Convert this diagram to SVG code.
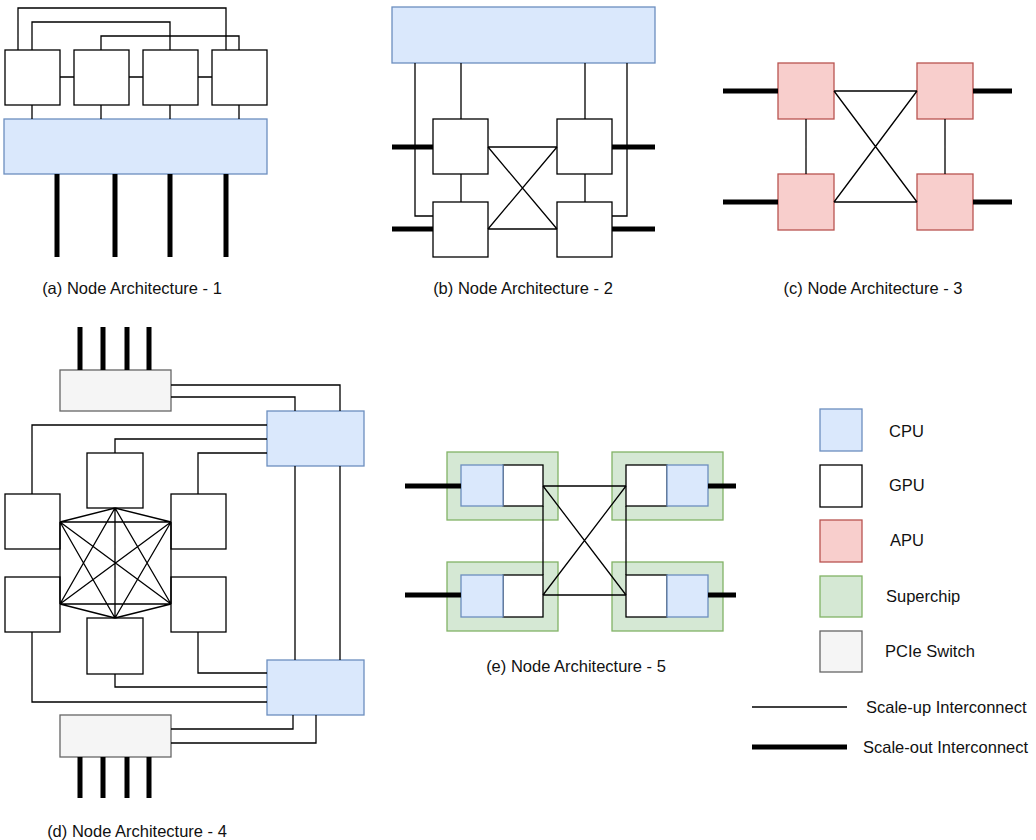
<svg xmlns="http://www.w3.org/2000/svg" width="1036" height="840" viewBox="0 0 1036 840">
<style>
.gpu{fill:#ffffff;stroke:#000;stroke-width:1.3}
.cpu{fill:#dae8fc;stroke:#6c8ebf;stroke-width:1.3}
.apu{fill:#f8cecc;stroke:#b85450;stroke-width:1.3}
.sc{fill:#d5e8d4;stroke:#82b366;stroke-width:1.3}
.sw{fill:#f5f5f5;stroke:#666666;stroke-width:1.3}
.up{stroke:#000;stroke-width:1.3;fill:none}
.out{stroke:#000;stroke-width:5;fill:none}
.lbl{font-family:"Liberation Sans",Arial,Helvetica,sans-serif;font-size:16.5px;fill:#111}
</style>
<rect width="1036" height="840" fill="#ffffff"/>

<!-- (a) -->
<g id="a-cpu"><rect class="cpu" x="4" y="119" width="263" height="55"/></g>
<g id="a-gpu1"><rect class="gpu" x="5" y="50" width="55" height="55"/></g>
<g id="a-gpu2"><rect class="gpu" x="74" y="50" width="55" height="55"/></g>
<g id="a-gpu3"><rect class="gpu" x="143" y="50" width="55" height="55"/></g>
<g id="a-gpu4"><rect class="gpu" x="212" y="50" width="55" height="55"/></g>
<text class="lbl" x="132" y="294" text-anchor="middle">(a) Node Architecture - 1</text>

<!-- (b) -->
<g id="b-cpu"><rect class="cpu" x="392" y="7" width="263" height="56"/></g>
<g id="b-gpu1"><rect class="gpu" x="433" y="119" width="55" height="55"/></g>
<g id="b-gpu2"><rect class="gpu" x="433" y="202" width="55" height="55"/></g>
<g id="b-gpu3"><rect class="gpu" x="557" y="119" width="55" height="55"/></g>
<g id="b-gpu4"><rect class="gpu" x="557" y="202" width="55" height="55"/></g>
<text class="lbl" x="523" y="294" text-anchor="middle">(b) Node Architecture - 2</text>

<!-- (c) -->
<g id="c-apu1"><rect class="apu" x="778" y="63" width="56" height="56"/></g>
<g id="c-apu2"><rect class="apu" x="778" y="174" width="56" height="56"/></g>
<g id="c-apu3"><rect class="apu" x="917" y="63" width="56" height="56"/></g>
<g id="c-apu4"><rect class="apu" x="917" y="174" width="56" height="56"/></g>
<text class="lbl" x="873" y="294" text-anchor="middle">(c) Node Architecture - 3</text>

<!-- (d) -->
<g id="d-sw1"><rect class="sw" x="60" y="370" width="111" height="41"/></g>
<g id="d-sw2"><rect class="sw" x="60" y="715" width="111" height="42"/></g>
<g id="d-cpu1"><rect class="cpu" x="267" y="411" width="97" height="55"/></g>
<g id="d-cpu2"><rect class="cpu" x="267" y="660" width="97" height="55"/></g>
<g id="d-gpu-t"><rect class="gpu" x="87" y="453" width="56" height="55"/></g>
<g id="d-gpu-ul"><rect class="gpu" x="5" y="494" width="55" height="55"/></g>
<g id="d-gpu-ur"><rect class="gpu" x="171" y="494" width="55" height="55"/></g>
<g id="d-gpu-ll"><rect class="gpu" x="5" y="577" width="55" height="55"/></g>
<g id="d-gpu-lr"><rect class="gpu" x="171" y="577" width="55" height="55"/></g>
<g id="d-gpu-b"><rect class="gpu" x="87" y="618" width="56" height="56"/></g>
<text class="lbl" x="137" y="837" text-anchor="middle">(d) Node Architecture - 4</text>

<!-- (e) -->
<g id="e-sc1"><rect class="sc" x="447" y="452" width="111" height="68"/><rect class="gpu" x="503" y="465" width="40" height="41"/><rect class="cpu" x="461" y="465" width="42" height="41"/></g>
<g id="e-sc2"><rect class="sc" x="612" y="452" width="111" height="68"/><rect class="gpu" x="626" y="465" width="41" height="41"/><rect class="cpu" x="667" y="465" width="41" height="41"/></g>
<g id="e-sc3"><rect class="sc" x="447" y="562" width="111" height="69"/><rect class="gpu" x="503" y="575" width="40" height="42"/><rect class="cpu" x="461" y="575" width="42" height="42"/></g>
<g id="e-sc4"><rect class="sc" x="612" y="562" width="111" height="69"/><rect class="gpu" x="626" y="575" width="41" height="42"/><rect class="cpu" x="667" y="575" width="41" height="42"/></g>
<text class="lbl" x="576" y="672" text-anchor="middle">(e) Node Architecture - 5</text>

<!-- legend -->
<g id="legend">
<rect class="cpu" x="820" y="409" width="42" height="42"/>
<text class="lbl" x="889" y="437">CPU</text>
<rect class="gpu" x="820" y="465" width="42" height="42"/>
<text class="lbl" x="889" y="491">GPU</text>
<rect class="apu" x="820" y="520" width="42" height="42"/>
<text class="lbl" x="890" y="546">APU</text>
<rect class="sc" x="820" y="576" width="42" height="41"/>
<text class="lbl" x="886" y="602">Superchip</text>
<rect class="sw" x="820" y="631" width="42" height="41"/>
<text class="lbl" x="885" y="657">PCIe Switch</text>
<line class="up" x1="752" y1="707" x2="847" y2="707"/>
<text class="lbl" x="866" y="713">Scale-up Interconnect</text>
<line class="out" x1="752" y1="747" x2="847" y2="747"/>
<text class="lbl" x="863" y="753">Scale-out Interconnect</text>
</g>

<g id="connectors">
<!-- (a) -->
<path class="up" d="M18,50V8H226V50M32,50V22H170V50M101,50V36H239V50"/>
<path class="up" d="M60,77H74M129,77H143M198,77H212"/>
<path class="up" d="M32,105V119M101,105V119M170,105V119M239,105V119"/>
<path class="out" d="M57,174V257M115,174V257M170,174V257M226,174V257"/>
<!-- (b) -->
<path class="up" d="M415,63V216H433M627,63V216H612M461,63V119M461,174V202M585,63V119M585,174V202"/>
<path class="up" d="M488,147H557M488,229H557M488,147L557,229M488,229L557,147"/>
<path class="out" d="M392,147H433M392,229H433M612,147H655M612,229H655"/>
<!-- (c) -->
<path class="up" d="M834,91H917M834,202H917M834,91L917,202M834,202L917,91M806,119V174M945,119V174"/>
<path class="out" d="M723,91H778M723,202H778M973,91H1012M973,202H1012"/>
<!-- (d) -->
<path class="out" d="M80,327V370M103,327V370M127,327V370M149,327V370M80,757V798M103,757V798M127,757V798M149,757V798"/>
<path class="up" d="M171,385H340V411M171,397H295V411M267,425H32V494M267,439H115V453M267,453H198V494M295,466V660M340,466V660"/>
<path class="up" d="M198,632V673H267M115,674V687H267M32,632V702H267M171,729H293V715M171,743H316V715"/>
<path class="up" d="M115,508V618M60,522H171M60,604H171M60,522V604M171,522V604M60,522L171,604M171,522L60,604M115,508L60,522M115,508L171,522M115,508L60,604M115,508L171,604M115,618L60,522M115,618L171,522M115,618L60,604M115,618L171,604"/>
<!-- (e) -->
<path class="up" d="M543,486H626M543,595H626M543,486L626,595M543,595L626,486M543,506V575M626,506V575"/>
<path class="out" d="M405,486H461M405,595H461M708,486H736M708,595H736"/>
</g>
</svg>
